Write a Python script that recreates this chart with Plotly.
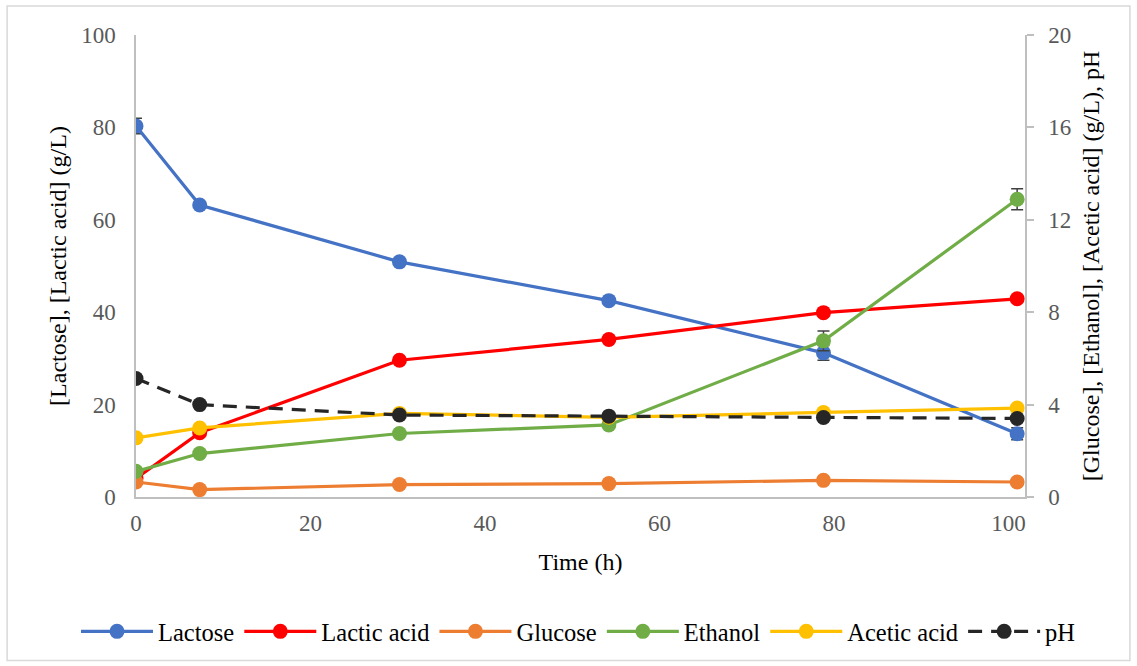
import plotly.graph_objects as go

# Sampling times (h)
time_h = [0, 7.3, 30.2, 54.2, 78.8, 101.0]

# Left axis series (g/L)
lactose = [80.3, 63.2, 50.9, 42.5, 31.2, 13.7]
lactose_err = [1.7, 0, 0, 0, 1.6, 1.3]
lactic_acid = [4.0, 13.9, 29.6, 34.1, 39.9, 42.9]

# Right axis series (g/L, pH)
glucose = [0.65, 0.32, 0.54, 0.58, 0.72, 0.65]
ethanol = [1.11, 1.88, 2.75, 3.12, 6.76, 12.89]
ethanol_err = [0, 0, 0, 0, 0.43, 0.45]
acetic_acid = [2.56, 2.99, 3.62, 3.45, 3.66, 3.85]
ph = [5.13, 4.00, 3.55, 3.50, 3.44, 3.40]

x_ticks = [0, 20, 40, 60, 80, 100]
left_ticks = [0, 20, 40, 60, 80, 100]
right_ticks = [0, 4, 8, 12, 16, 20]

FONT = "Liberation Serif"
TICK_COLOR = "#595959"
AXIS_COLOR = "#bfbfbf"
ERR_COLOR = "#404040"
LW = 3.2
MS = 15


def series(name, y, color, axis="y", err=None, dash=None):
    kw = {}
    if err is not None:
        kw["error_y"] = dict(type="data", array=err, visible=True,
                             color=ERR_COLOR, thickness=1.5, width=6)
    return go.Scatter(
        x=time_h, y=y, name=name, yaxis=axis, mode="lines+markers",
        line=dict(color=color, width=LW, dash=dash),
        marker=dict(color=color, size=MS),
        **kw,
    )


fig = go.Figure()
fig.add_trace(series("Lactose", lactose, "#4472C4", err=lactose_err))
fig.add_trace(series("Lactic acid", lactic_acid, "#FF0000"))
fig.add_trace(series("Glucose", glucose, "#ED7D31", axis="y2"))
fig.add_trace(series("Ethanol", ethanol, "#70AD47", axis="y2", err=ethanol_err))
fig.add_trace(series("Acetic acid", acetic_acid, "#FFC000", axis="y2"))
fig.add_trace(series("pH", ph, "#262626", axis="y2", dash="14px,9px"))

tickfont = dict(family=FONT, size=23, color=TICK_COLOR)
titlefont = dict(family=FONT, size=24, color="black")

fig.update_layout(
    width=1137, height=666,
    margin=dict(l=136, r=112, t=35, b=169),
    paper_bgcolor="white", plot_bgcolor="white",
    font=dict(family=FONT, color="black"),
    showlegend=True,
    legend=dict(orientation="h", x=-0.0675, xanchor="left",
                y=-0.291, yanchor="middle",
                font=dict(family=FONT, size=24.5, color="black"),
                itemwidth=72, tracegroupgap=0),
    xaxis=dict(range=[0, 101.9], tickvals=x_ticks, showgrid=False, zeroline=False,
               showline=True, linecolor=AXIS_COLOR, linewidth=1.5, ticks="",
               tickfont=tickfont, ticklabelstandoff=5,
               title=dict(text="Time (h)", font=titlefont, standoff=18)),
    yaxis=dict(range=[0, 100], tickvals=left_ticks, showgrid=False, zeroline=False,
               showline=True, linecolor=AXIS_COLOR, linewidth=1.5, ticks="",
               tickfont=tickfont, ticklabelstandoff=14,
               title=dict(text="[Lactose], [Lactic acid] (g/L)", font=titlefont, standoff=8)),
    yaxis2=dict(range=[0, 20], tickvals=right_ticks, overlaying="y", side="right",
                showgrid=False, zeroline=False, showline=True, linecolor=AXIS_COLOR,
                linewidth=1.5, ticks="outside", ticklen=7, tickcolor=AXIS_COLOR,
                tickwidth=1.5, tickfont=tickfont, ticklabelstandoff=10,
                title=dict(text="[Glucose], [Ethanol], [Acetic acid] (g/L), pH",
                           font=titlefont, standoff=12)),
    shapes=[dict(type="rect", xref="paper", yref="paper",
                 x0=-0.145, x1=1.118, y0=-0.354, y1=1.063,
                 line=dict(color="#d9d9d9", width=1.5), fillcolor="rgba(0,0,0,0)")],
)

fig.write_html("out.html")
